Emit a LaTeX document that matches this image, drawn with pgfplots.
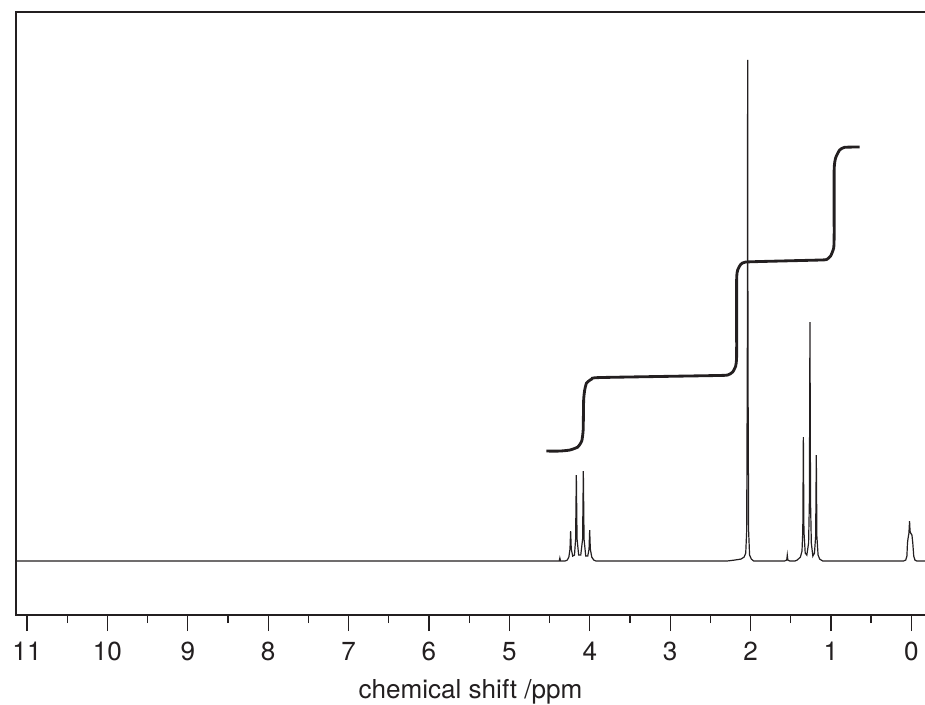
\documentclass[border=0pt]{standalone}
\usepackage{fontspec}
\setmainfont{TeX Gyre Heros}
\usepackage{pgfplots}
\pgfplotsset{compat=1.18}
\definecolor{ink}{HTML}{231F20}

\begin{document}
\begin{tikzpicture}
\begin{axis}[
    scale only axis,
    width=418.1pt,
    height=277.4pt,
    x dir=reverse,
    xmin=-0.17, xmax=11.137,
    ymin=-54, ymax=549,
    clip=false,
    axis line style={draw=none},
    xtick={0,1,...,11},
    minor x tick num=1,
    xtick pos=left,
    xtick align=outside,
    major tick length=7.4pt,
    minor tick length=3.7pt,
    every tick/.style={ink, line width=0.6pt},
    ytick=\empty,
    tick label style={font=\fontsize{12}{14}\selectfont, text=ink},
    xticklabel style={yshift=-1.4pt},
    /pgf/number format/assume math mode=true,
    xlabel={chemical shift /ppm},
    xlabel style={font=\fontsize{12}{14}\selectfont, text=ink, yshift=-1.8pt},
]
% spectrum (ppm, intensity)
\addplot[ink, line width=0.55pt] coordinates {
    (11.137,0) (4.45,0) (4.38,0) (4.372,3) (4.364,0) (4.31,0) (4.28,1) (4.26,4)
    (4.246,12) (4.238,30) (4.23,12) (4.212,5) (4.19,6) (4.176,22) (4.167,86) (4.158,22)
    (4.138,6) (4.112,6) (4.089,22) (4.080,90) (4.071,22) (4.05,5) (4.025,5) (4.009,12)
    (4.001,31) (3.993,12) (3.975,4) (3.95,1) (3.92,0)
    (2.30,0) (2.20,1) (2.12,2) (2.08,4) (2.06,8) (2.048,30) (2.040,200) (2.036,501)
    (2.032,200) (2.024,30) (2.012,6) (1.99,2) (1.96,0)
    (1.58,0) (1.55,1) (1.543,6) (1.536,1) (1.51,0)
    (1.45,0) (1.42,1) (1.38,4) (1.36,10) (1.350,30) (1.343,124) (1.336,30) (1.32,8)
    (1.30,6) (1.278,18) (1.268,60) (1.261,239) (1.254,60) (1.244,18) (1.225,5) (1.205,8)
    (1.19,25) (1.182,106) (1.175,25) (1.16,6) (1.14,2) (1.10,0)
    (0.10,0) (0.07,1) (0.055,5) (0.048,18) (0.042,22) (0.030,28) (0.022,40) (0.016,30)
    (0.008,28) (-0.008,26) (-0.018,18) (-0.03,5) (-0.045,1) (-0.07,0) (-0.17,0)
};
% integral curve
\addplot[ink, line width=1.3pt, smooth, tension=0.3] coordinates {
    (4.540,110) (4.375,110) (4.25,111) (4.15,114) (4.10,120) (4.082,131) (4.076,161)
    (4.063,171) (4.04,178) (3.976,182) (3.877,183.5) (2.447,185.5) (2.285,186)
    (2.223,189) (2.185,195) (2.173,206) (2.173,281) (2.16,291) (2.123,296.5) (2.061,299)
    (1.64,300) (1.14,301) (1.054,301.5) (1.004,305) (0.966,313) (0.960,326) (0.960,391)
    (0.942,403) (0.892,411) (0.830,413.7) (0.643,414)
};
\coordinate (sw) at (axis description cs:0,0);
\coordinate (ne) at (axis description cs:1,1);
\draw[ink, line width=1.1pt] (axis description cs:1,1) -- (axis description cs:0,1)
    -- (axis description cs:0,0) -- (axis description cs:1,0);
\end{axis}
\pgfresetboundingbox
\path ([xshift=-7.36pt,yshift=-40.94pt]sw) rectangle ([yshift=5.52pt]ne);
\end{tikzpicture}
\end{document}
